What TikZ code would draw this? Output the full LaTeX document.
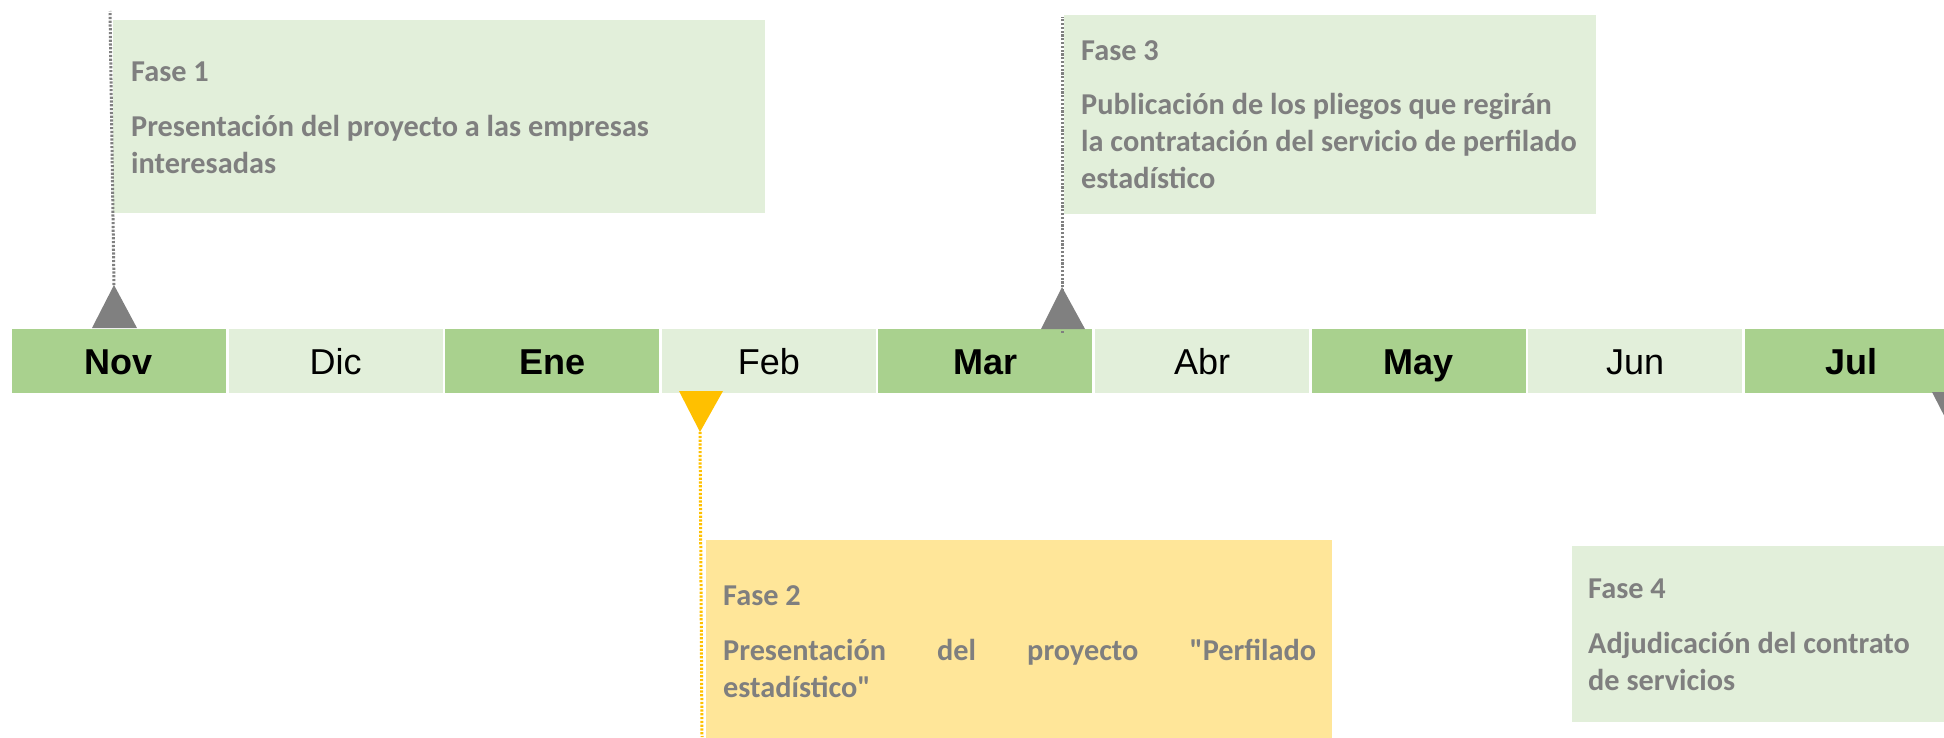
\documentclass[tikz,border=0pt]{standalone}
\usepackage{fontspec}
\newfontfamily\calib{Carlito}
\newfontfamily\arialf{Liberation Sans}
\definecolor{dkgreen}{HTML}{A9D18E}
\definecolor{ltgreen}{HTML}{E2EFDA}
\definecolor{ltyellow}{HTML}{FFE699}
\definecolor{gold}{HTML}{FFC000}
\definecolor{markgrey}{HTML}{808080}
\definecolor{txtgrey}{HTML}{7F7F7F}
\begin{document}
\begin{tikzpicture}[x=1pt,y=-1pt,
  monthbox/.style={minimum width=214pt, minimum height=64pt, inner sep=0pt, anchor=center, text=black, text height=26pt, text depth=0pt, font=\arialf\fontsize{36}{40}\selectfont},
  strongmonth/.style={monthbox, fill=dkgreen, font=\arialf\fontsize{36}{40}\selectfont\bfseries},
  softmonth/.style={monthbox, fill=ltgreen},
  phasebox/.style={inner sep=0pt, anchor=north west},
  phasetext/.style={anchor=base west, inner sep=0pt, text=txtgrey, font=\calib\fontsize{30.3}{36}\selectfont\bfseries},
  greydots/.style={draw=markgrey, line width=3pt, dash pattern=on 2.2pt off 1.6pt},
  golddots/.style={draw=gold, line width=3pt, dash pattern=on 2.2pt off 1.6pt}
]
\useasboundingbox (0,0) rectangle (1944,737);
\clip (0,0) rectangle (1944,737);

% month bar
\node[strongmonth] (nov) at (119,361) {Nov};
\node[softmonth]   (dic) at (335.6,361) {Dic};
\node[strongmonth] (ene) at (552.2,361) {Ene};
\node[softmonth]   (feb) at (768.8,361) {Feb};
\node[strongmonth] (mar) at (985.4,361) {Mar};
\node[softmonth]   (abr) at (1202,361) {Abr};
\node[strongmonth] (may) at (1418.6,361) {May};
\node[softmonth]   (jun) at (1635.2,361) {Jun};
\node[strongmonth] (jul) at (1851.8,361) {Jul};

% phase boxes
\node[phasebox, fill=ltgreen, minimum width=652pt, minimum height=193pt] (box1) at (113,20) {};
\node[phasebox, fill=ltyellow, minimum width=626pt, minimum height=210pt] (box2) at (706,540) {};
\node[phasebox, fill=ltgreen, minimum width=532pt, minimum height=199pt] (box3) at (1064,15) {};
\node[phasebox, fill=ltgreen, minimum width=400pt, minimum height=176pt] (box4) at (1572,546) {};

% marker points
\coordinate (a1) at (114,285);
\coordinate (e1) at (110,11);
\coordinate (a2) at (700,432);
\coordinate (e2) at (702,737);
\coordinate (a3) at (1062,287);
\coordinate (s3) at (1062,333);
\coordinate (e3) at (1062,17);

% dotted leaders
\draw[greydots] (a1) -- (e1);
\draw[golddots] (a2) -- (e2);
\draw[greydots] (s3) -- (e3);

% triangles
\fill[markgrey] (a1) -- (92,328) -- (137,328) -- cycle;
\fill[gold] (a2) -- (679,391) -- (723,391) -- cycle;
\fill[markgrey] (a3) -- (1041,329) -- (1085,329) -- cycle;
\fill[markgrey] (1954,435) -- (1932,392) -- (1976,392) -- cycle;

% phase 1
\node[phasetext] (t1) at (131,81) {Fase 1};
\node[phasetext] (t1a) at (131,136) {Presentación del proyecto a las empresas};
\node[phasetext] (t1b) at (131,173) {interesadas};

% phase 2
\node[phasetext] (t2) at (723,605) {Fase 2};
\node[phasetext] (t2a) at (723,660) {\makebox[593pt][s]{Presentación del proyecto "Perfilado}};
\node[phasetext] (t2b) at (723,697) {estadístico"};

% phase 3
\node[phasetext] (t3) at (1081,60) {Fase 3};
\node[phasetext] (t3a) at (1081,114) {Publicación de los pliegos que regirán};
\node[phasetext] (t3b) at (1081,151) {la contratación del servicio de perfilado};
\node[phasetext] (t3c) at (1081,188) {estadístico};

% phase 4
\node[phasetext] (t4) at (1588,598) {Fase 4};
\node[phasetext] (t4a) at (1588,653) {Adjudicación del contrato};
\node[phasetext] (t4b) at (1588,690) {de servicios};
\end{tikzpicture}
\end{document}
